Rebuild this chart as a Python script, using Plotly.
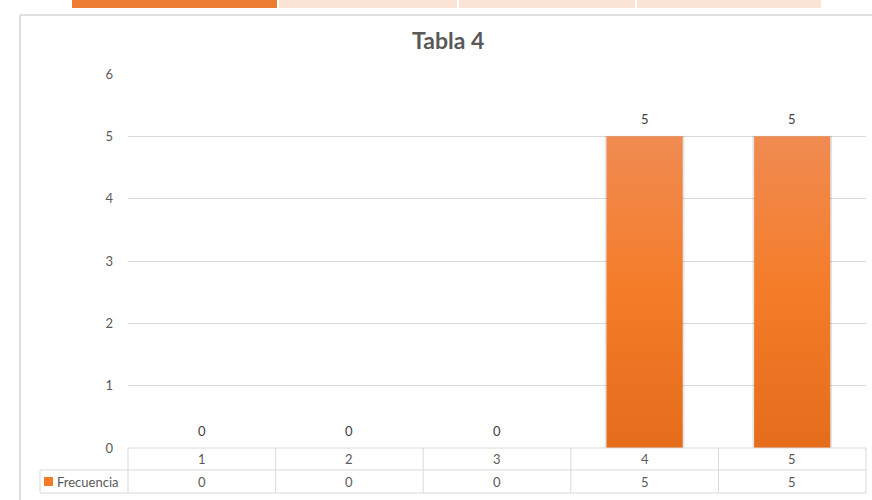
import plotly.graph_objects as go

# Data
categories = ["1", "2", "3", "4", "5"]
frecuencia = [0, 0, 0, 5, 5]
series_name = "Frecuencia"
y_ticks = [0, 1, 2, 3, 4, 5, 6]
title_text = "Tabla 4"

# Styling
W, H = 872, 500
L, R, T, B = 128, 6, 74, 52
PLOT_W = W - L - R
PLOT_H = H - T - B
GRID = "#d9d9d9"
TXT = "#595959"
FONT = "Lato, 'Open Sans', sans-serif"
FS = 13
BAR_HALF = 0.258
ORANGE_TOP, ORANGE_MID, ORANGE_BOT = "#f08b52", "#f47c28", "#e56c1b"


def px(x):
    return (x - L) / PLOT_W


def py(y):
    return (H - B - y) / PLOT_H


fig = go.Figure()

# Bars as gradient-filled rectangles on the category axis
for i, v in enumerate(frecuencia):
    if v <= 0:
        continue
    xs = [i - BAR_HALF, i - BAR_HALF, i + BAR_HALF, i + BAR_HALF, i - BAR_HALF]
    ys = [0, v, v, 0, 0]
    # soft shadow behind each bar
    fig.add_trace(go.Scatter(
        x=[i - BAR_HALF - 0.012, i - BAR_HALF - 0.012, i + BAR_HALF + 0.012,
           i + BAR_HALF + 0.012, i - BAR_HALF - 0.012],
        y=[0, v + 0.01, v + 0.01, 0, 0],
        mode="lines", fill="toself", line=dict(width=0),
        fillcolor="rgba(0,0,0,0.10)", hoverinfo="skip", showlegend=False,
    ))
    fig.add_trace(go.Scatter(
        x=xs, y=ys, mode="lines", fill="toself", line=dict(width=0),
        fillgradient=dict(type="vertical",
                          colorscale=[[0, ORANGE_BOT], [0.5, ORANGE_MID], [1, ORANGE_TOP]]),
        name=series_name, showlegend=False,
        hovertemplate=f"{series_name}<br>{categories[i]}: {v}<extra></extra>",
    ))

annotations = []
shapes = []

# Data labels
for i, v in enumerate(frecuencia):
    annotations.append(dict(
        x=i, y=v, xref="x", yref="y", text=str(v), showarrow=False,
        xanchor="center", yanchor="bottom", yshift=7,
        font=dict(size=FS, color="#404040", family=FONT),
    ))

# Title
annotations.append(dict(
    x=px(448), y=py(40), xref="paper", yref="paper", text=f"<b>{title_text}</b>",
    showarrow=False, font=dict(size=23, color=TXT, family=FONT),
    xanchor="center", yanchor="middle",
))

# Data table below the plot
n = len(categories)
row1_top, row1_bot, row2_bot = 448, 470, 493
legend_left = 40


def hline(x0, x1, y):
    shapes.append(dict(type="line", xref="paper", yref="paper",
                       x0=px(x0), x1=px(x1), y0=py(y), y1=py(y),
                       line=dict(color=GRID, width=1)))


def vline(x, y0, y1):
    shapes.append(dict(type="line", xref="paper", yref="paper",
                       x0=px(x), x1=px(x), y0=py(y0), y1=py(y1),
                       line=dict(color=GRID, width=1)))


hline(L, W - R, row1_top)
hline(legend_left, W - R, row1_bot)
hline(legend_left, W - R, row2_bot)
vline(legend_left, row1_bot, row2_bot)
for k in range(n + 1):
    vline(L + k * PLOT_W / n, row1_top, row2_bot)

for k in range(n):
    xc = (k + 0.5) / n
    annotations.append(dict(x=xc, y=py((row1_top + row1_bot) / 2), xref="paper", yref="paper",
                            text=categories[k], showarrow=False,
                            xanchor="center", yanchor="middle",
                            font=dict(size=FS, color=TXT, family=FONT)))
    annotations.append(dict(x=xc, y=py((row1_bot + row2_bot) / 2), xref="paper", yref="paper",
                            text=str(frecuencia[k]), showarrow=False,
                            xanchor="center", yanchor="middle",
                            font=dict(size=FS, color=TXT, family=FONT)))

# Legend key inside the table
shapes.append(dict(type="rect", xref="paper", yref="paper",
                   x0=px(44), x1=px(53), y0=py(477), y1=py(486),
                   fillcolor=ORANGE_MID, line=dict(width=0)))
annotations.append(dict(x=px(55), y=py((row1_bot + row2_bot) / 2), xref="paper", yref="paper",
                        text=series_name, showarrow=False, xanchor="left", yanchor="middle",
                        font=dict(size=FS, color=TXT, family=FONT)))

# Chart frame
shapes.append(dict(type="line", xref="paper", yref="paper",
                   x0=px(20), x1=px(W + 5), y0=py(15), y1=py(15),
                   line=dict(color="#e0e0e0", width=2)))
shapes.append(dict(type="line", xref="paper", yref="paper",
                   x0=px(20), x1=px(20), y0=py(15), y1=py(H + 5),
                   line=dict(color="#e0e0e0", width=2)))

# Tab strip along the top edge
tabs = [(72, 277, "#ed7d31"), (279, 457, "#fbe3d6"), (459, 635, "#fbe3d6"), (637, 821, "#fbe3d6")]
for x0, x1, c in tabs:
    shapes.append(dict(type="rect", xref="paper", yref="paper",
                       x0=px(x0), x1=px(x1), y0=py(0), y1=py(8),
                       fillcolor=c, line=dict(width=0), layer="above"))

fig.update_layout(
    width=W, height=H,
    margin=dict(l=L, r=R, t=T, b=B, pad=0),
    paper_bgcolor="white", plot_bgcolor="white",
    showlegend=False,
    annotations=annotations,
    shapes=shapes,
    xaxis=dict(range=[-0.5, n - 0.5], showticklabels=False, showgrid=False,
               zeroline=False, showline=False, ticks="", fixedrange=True,
               tickvals=list(range(n))),
    yaxis=dict(range=[0, 6], tickvals=y_ticks, showgrid=True, gridcolor=GRID, gridwidth=1,
               zeroline=False, showline=False, ticks="", ticklabelstandoff=14,
               tickfont=dict(size=FS, color=TXT, family=FONT), fixedrange=True),
    font=dict(family=FONT, color=TXT),
)

fig.write_html("out.html")
